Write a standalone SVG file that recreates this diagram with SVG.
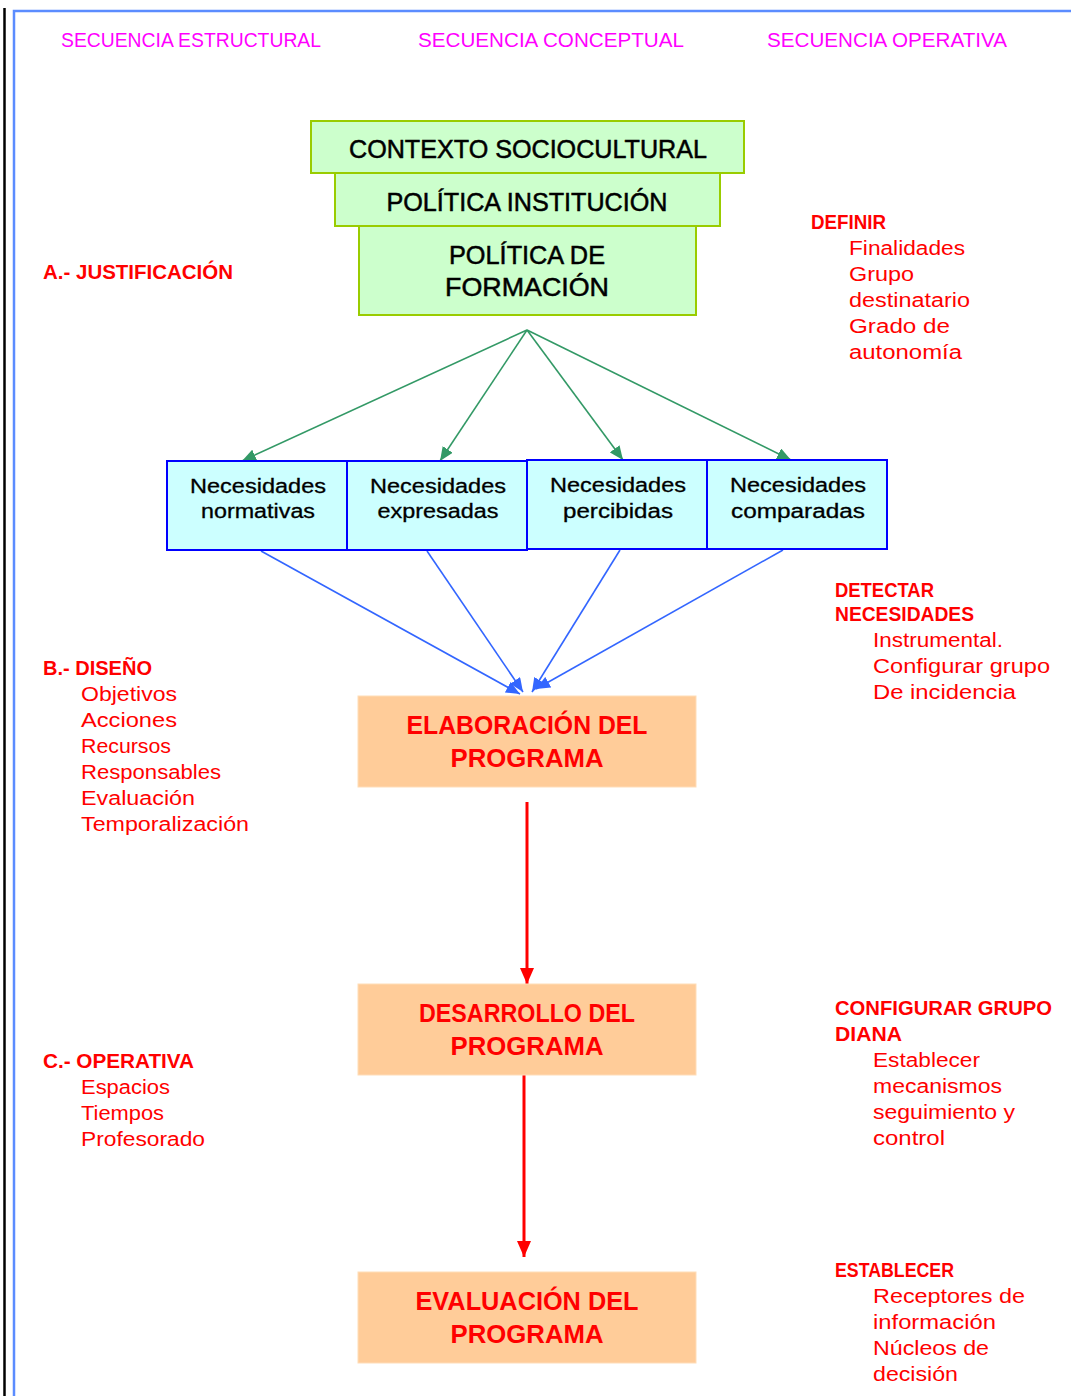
<svg xmlns="http://www.w3.org/2000/svg" width="1071" height="1396" viewBox="0 0 1071 1396">
<defs>
<style>
text{font-family:"Liberation Sans",Arial,sans-serif}
.hdr{fill:#FF00FF;font-size:20px}
.gt{fill:#000;stroke:#000;stroke-width:0.5;font-size:25px;text-anchor:middle}
.nt{fill:#000;stroke:#000;stroke-width:0.3;font-size:20px;text-anchor:middle}
.ot{fill:#FF0000;font-size:25px;font-weight:bold;text-anchor:middle}
.lb{fill:#FF0000;font-size:20px;font-weight:bold}
.li{fill:#FF0000;font-size:20px}
.gbox{fill:#CCFFCC;stroke:#99CC00;stroke-width:2}
.bbox{fill:#CCFFFF;stroke:#0000FF;stroke-width:2}
.obox{fill:#FFCC99;stroke:#FFDDB8;stroke-width:1}
.ga{stroke:#339966;stroke-width:1.6;fill:none}
.ba{stroke:#3366FF;stroke-width:1.6;fill:none}
.ra{stroke:#FF0000;stroke-width:3;fill:none}
</style>
<marker id="mg" viewBox="0 0 14 12" refX="14" refY="6" markerWidth="14" markerHeight="12" markerUnits="userSpaceOnUse" orient="auto"><path d="M0,0 L14,6 L0,12 z" fill="#339966"/></marker>
<marker id="mb" viewBox="0 0 14 12" refX="14" refY="6" markerWidth="14" markerHeight="12" markerUnits="userSpaceOnUse" orient="auto"><path d="M0,0 L14,6 L0,12 z" fill="#3366FF"/></marker>
<marker id="mr" viewBox="0 0 16 14" refX="16" refY="7" markerWidth="16" markerHeight="14" markerUnits="userSpaceOnUse" orient="auto"><path d="M0,0 L16,7 L0,14 z" fill="#FF0000"/></marker>
</defs>
<rect width="1071" height="1396" fill="#FFFFFF"/>
<g id="frame">
<line x1="4.5" y1="8" x2="4.5" y2="1396" stroke="#000" stroke-width="2.5"/>
<path d="M14,1396 V11 H1071" stroke="#5B8CFF" stroke-width="2.5" fill="none"/>
</g>
<g id="headers">
<text class="hdr" x="61" y="47" textLength="260" lengthAdjust="spacingAndGlyphs">SECUENCIA ESTRUCTURAL</text>
<text class="hdr" x="418" y="47" textLength="266" lengthAdjust="spacingAndGlyphs">SECUENCIA CONCEPTUAL</text>
<text class="hdr" x="767" y="47" textLength="240" lengthAdjust="spacingAndGlyphs">SECUENCIA OPERATIVA</text>
</g>
<g id="connectors">
<line class="ga" x1="527" y1="330" x2="242" y2="461" marker-end="url(#mg)"/>
<line class="ga" x1="527" y1="330" x2="440" y2="461" marker-end="url(#mg)"/>
<line class="ga" x1="527" y1="330" x2="623" y2="460" marker-end="url(#mg)"/>
<line class="ga" x1="527" y1="330" x2="791" y2="460" marker-end="url(#mg)"/>
<line class="ba" x1="261" y1="551" x2="520" y2="694" marker-end="url(#mb)"/>
<line class="ba" x1="427" y1="551" x2="523" y2="692" marker-end="url(#mb)"/>
<line class="ba" x1="620" y1="550" x2="532" y2="692" marker-end="url(#mb)"/>
<line class="ba" x1="783" y1="550" x2="536" y2="689" marker-end="url(#mb)"/>
<line class="ra" x1="527" y1="802" x2="527" y2="984" marker-end="url(#mr)"/>
<line class="ra" x1="524" y1="1075" x2="524" y2="1257" marker-end="url(#mr)"/>
</g>
<g id="n-formacion">
<rect class="gbox" x="359" y="226" width="337" height="89"/>
<text class="gt" x="527" y="264" textLength="156" lengthAdjust="spacingAndGlyphs">POLÍTICA DE</text>
<text class="gt" x="527" y="296" textLength="164" lengthAdjust="spacingAndGlyphs">FORMACIÓN</text>
</g>
<g id="n-institucion">
<rect class="gbox" x="335" y="173" width="385" height="53"/>
<text class="gt" x="527" y="211" textLength="281" lengthAdjust="spacingAndGlyphs">POLÍTICA INSTITUCIÓN</text>
</g>
<g id="n-contexto">
<rect class="gbox" x="311" y="121" width="433" height="52"/>
<text class="gt" x="528" y="158" textLength="358" lengthAdjust="spacingAndGlyphs">CONTEXTO SOCIOCULTURAL</text>
</g>
<g id="n-normativas">
<rect class="bbox" x="167" y="461" width="180" height="89"/>
<text class="nt" x="258" y="493" textLength="136" lengthAdjust="spacingAndGlyphs">Necesidades</text>
<text class="nt" x="258" y="518" textLength="114" lengthAdjust="spacingAndGlyphs">normativas</text>
</g>
<g id="n-expresadas">
<rect class="bbox" x="347" y="461" width="180" height="89"/>
<text class="nt" x="438" y="493" textLength="136" lengthAdjust="spacingAndGlyphs">Necesidades</text>
<text class="nt" x="438" y="518" textLength="121" lengthAdjust="spacingAndGlyphs">expresadas</text>
</g>
<g id="n-percibidas">
<rect class="bbox" x="527" y="460" width="180" height="89"/>
<text class="nt" x="618" y="492" textLength="136" lengthAdjust="spacingAndGlyphs">Necesidades</text>
<text class="nt" x="618" y="518" textLength="110" lengthAdjust="spacingAndGlyphs">percibidas</text>
</g>
<g id="n-comparadas">
<rect class="bbox" x="707" y="460" width="180" height="89"/>
<text class="nt" x="798" y="492" textLength="136" lengthAdjust="spacingAndGlyphs">Necesidades</text>
<text class="nt" x="798" y="518" textLength="134" lengthAdjust="spacingAndGlyphs">comparadas</text>
</g>
<g id="n-elaboracion">
<rect class="obox" x="358" y="696" width="338" height="91"/>
<text class="ot" x="527" y="734" textLength="241" lengthAdjust="spacingAndGlyphs">ELABORACIÓN DEL</text>
<text class="ot" x="527" y="767" textLength="153" lengthAdjust="spacingAndGlyphs">PROGRAMA</text>
</g>
<g id="n-desarrollo">
<rect class="obox" x="358" y="984" width="338" height="91"/>
<text class="ot" x="527" y="1022" textLength="216" lengthAdjust="spacingAndGlyphs">DESARROLLO DEL</text>
<text class="ot" x="527" y="1055" textLength="153" lengthAdjust="spacingAndGlyphs">PROGRAMA</text>
</g>
<g id="n-evaluacion">
<rect class="obox" x="358" y="1272" width="338" height="91"/>
<text class="ot" x="527" y="1310" textLength="223" lengthAdjust="spacingAndGlyphs">EVALUACIÓN DEL</text>
<text class="ot" x="527" y="1343" textLength="153" lengthAdjust="spacingAndGlyphs">PROGRAMA</text>
</g>
<g id="left-labels">
<text class="lb" x="43" y="279" textLength="190" lengthAdjust="spacingAndGlyphs">A.- JUSTIFICACIÓN</text>
<text class="lb" x="43" y="675" textLength="109" lengthAdjust="spacingAndGlyphs">B.- DISEÑO</text>
<text class="li" x="81" y="701" textLength="96" lengthAdjust="spacingAndGlyphs">Objetivos</text>
<text class="li" x="81" y="727" textLength="96" lengthAdjust="spacingAndGlyphs">Acciones</text>
<text class="li" x="81" y="753" textLength="90" lengthAdjust="spacingAndGlyphs">Recursos</text>
<text class="li" x="81" y="779" textLength="140" lengthAdjust="spacingAndGlyphs">Responsables</text>
<text class="li" x="81" y="805" textLength="114" lengthAdjust="spacingAndGlyphs">Evaluación</text>
<text class="li" x="81" y="831" textLength="168" lengthAdjust="spacingAndGlyphs">Temporalización</text>
<text class="lb" x="43" y="1068" textLength="151" lengthAdjust="spacingAndGlyphs">C.- OPERATIVA</text>
<text class="li" x="81" y="1094" textLength="89" lengthAdjust="spacingAndGlyphs">Espacios</text>
<text class="li" x="81" y="1120" textLength="83" lengthAdjust="spacingAndGlyphs">Tiempos</text>
<text class="li" x="81" y="1146" textLength="124" lengthAdjust="spacingAndGlyphs">Profesorado</text>
</g>
<g id="right-labels">
<text class="lb" x="811" y="229" textLength="75" lengthAdjust="spacingAndGlyphs">DEFINIR</text>
<text class="li" x="849" y="255" textLength="116" lengthAdjust="spacingAndGlyphs">Finalidades</text>
<text class="li" x="849" y="281" textLength="65" lengthAdjust="spacingAndGlyphs">Grupo</text>
<text class="li" x="849" y="307" textLength="121" lengthAdjust="spacingAndGlyphs">destinatario</text>
<text class="li" x="849" y="333" textLength="101" lengthAdjust="spacingAndGlyphs">Grado de</text>
<text class="li" x="849" y="359" textLength="113" lengthAdjust="spacingAndGlyphs">autonomía</text>
<text class="lb" x="835" y="597" textLength="99" lengthAdjust="spacingAndGlyphs">DETECTAR</text>
<text class="lb" x="835" y="621" textLength="139" lengthAdjust="spacingAndGlyphs">NECESIDADES</text>
<text class="li" x="873" y="647" textLength="130" lengthAdjust="spacingAndGlyphs">Instrumental.</text>
<text class="li" x="873" y="673" textLength="177" lengthAdjust="spacingAndGlyphs">Configurar grupo</text>
<text class="li" x="873" y="699" textLength="143" lengthAdjust="spacingAndGlyphs">De incidencia</text>
<text class="lb" x="835" y="1015" textLength="217" lengthAdjust="spacingAndGlyphs">CONFIGURAR GRUPO</text>
<text class="lb" x="835" y="1041" textLength="67" lengthAdjust="spacingAndGlyphs">DIANA</text>
<text class="li" x="873" y="1067" textLength="107" lengthAdjust="spacingAndGlyphs">Establecer</text>
<text class="li" x="873" y="1093" textLength="129" lengthAdjust="spacingAndGlyphs">mecanismos</text>
<text class="li" x="873" y="1119" textLength="142" lengthAdjust="spacingAndGlyphs">seguimiento y</text>
<text class="li" x="873" y="1145" textLength="72" lengthAdjust="spacingAndGlyphs">control</text>
<text class="lb" x="835" y="1277" textLength="119" lengthAdjust="spacingAndGlyphs">ESTABLECER</text>
<text class="li" x="873" y="1303" textLength="152" lengthAdjust="spacingAndGlyphs">Receptores de</text>
<text class="li" x="873" y="1329" textLength="123" lengthAdjust="spacingAndGlyphs">información</text>
<text class="li" x="873" y="1355" textLength="116" lengthAdjust="spacingAndGlyphs">Núcleos de</text>
<text class="li" x="873" y="1381" textLength="85" lengthAdjust="spacingAndGlyphs">decisión</text>
</g>
</svg>
